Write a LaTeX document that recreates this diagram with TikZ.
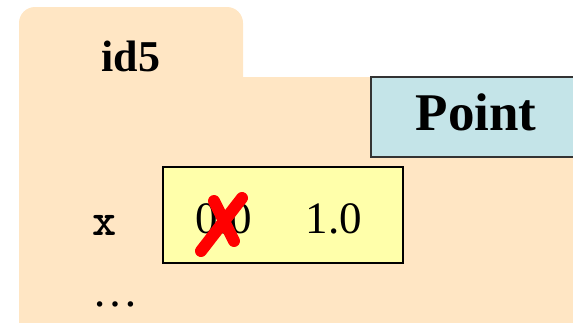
\documentclass[tikz,border=0pt]{standalone}
\usepackage{fontspec}
\setmainfont{Liberation Serif}
\definecolor{folderbg}{HTML}{FFE6C4}
\definecolor{classbg}{HTML}{C4E4E8}
\definecolor{valbg}{HTML}{FFFFAA}
\definecolor{classln}{HTML}{333333}
\begin{document}
\begin{tikzpicture}[x=1pt,y=-1pt,
    lbl/.style={inner sep=0pt,anchor=base},
    strike/.style={red,line width=12pt,line cap=round}]
  \useasboundingbox (0,0) rectangle (573,322);
  \clip (0,0) rectangle (573,322);
  % folder with its tab
  \fill[folderbg] (19,330) [rounded corners=16pt] -- (19,7) -- (243,7)
    [sharp corners] -- (243,77) -- (580,77) -- (580,330) -- cycle;
  \node[lbl,font=\fontsize{44}{44}\selectfont\bfseries] (id) at (131,71) {id5};
  % class box
  \draw[classln,fill=classbg,line width=1.3pt] (371,77) rectangle (590,157);
  \node[lbl,font=\fontsize{53}{53}\selectfont\bfseries] (cls) at (476,130) {Point};
  % attribute x
  \node[lbl,font=\fontsize{46}{46}\ttfamily\bfseries] (var) at (105,235) {x};
  \draw[black,fill=valbg,line width=1.6pt] (163,167) rectangle (403,263);
  \node[lbl,font=\fontsize{45}{45}\selectfont] (old) at (224,233) {0.0};
  \node[lbl,font=\fontsize{45}{45}\selectfont] (new) at (334,233) {1.0};
  \draw[strike] (201,251) -- (242,198);
  \draw[strike] (214,201) -- (234,241);
  \node[lbl,font=\fontsize{46}{46}\selectfont] (more) at (115,306) {…};
\end{tikzpicture}
\end{document}
